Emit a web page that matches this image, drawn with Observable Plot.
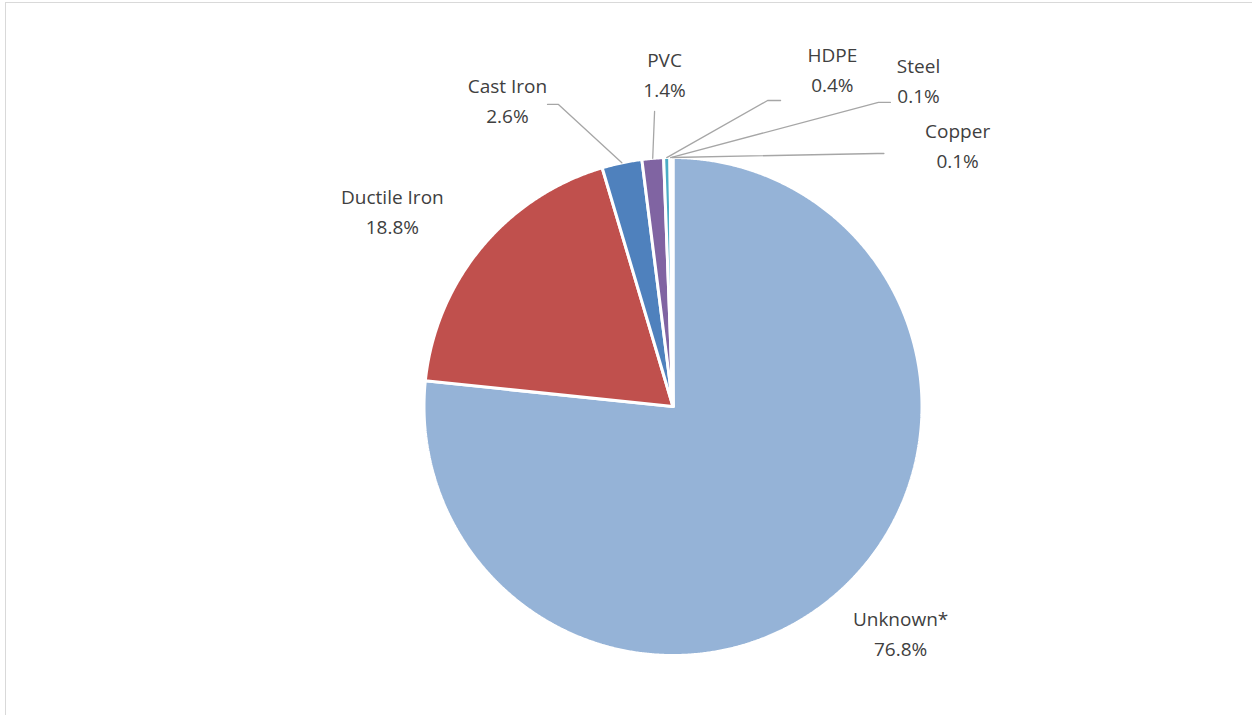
<!DOCTYPE html>
<html><head><meta charset="utf-8">
<script src="https://cdn.jsdelivr.net/npm/d3@7"></script>
<script src="https://cdn.jsdelivr.net/npm/@observablehq/plot@0.6"></script>
<style>
body{margin:0;background:#fff;overflow:hidden;}
#frame{position:absolute;left:5px;top:2px;width:1300px;height:760px;border-left:1.5px solid #d9d9d9;border-top:1.5px solid #d9d9d9;}
#chart{position:absolute;left:0;top:0;}
</style></head><body><div id="frame"></div><div id="chart"></div>
<script>
// Data
const categories = ["Unknown*", "Ductile Iron", "Cast Iron", "PVC", "HDPE", "Steel", "Copper"];
const values = [76.8, 18.8, 2.6, 1.4, 0.4, 0.1, 0.1];
const labels = ["76.8%", "18.8%", "2.6%", "1.4%", "0.4%", "0.1%", "0.1%"];
const colors = ["#95B3D7", "#C0504D", "#4F81BD", "#8064A2", "#4BACC6", "#F79646", "#9BBB59"];

// Layout (data units, pie radius = 1)
const labelX = [0.914, -1.127, -0.665, -0.034, 0.64, 0.986, 1.143];
const labelY = [-0.904, 0.791, 1.237, 1.341, 1.361, 1.317, 1.056];
// leader elbows: [elbowX, elbowY, endX] or null
const leaders = [null, null, [-0.46, 1.213, -0.504], [-0.074, 1.185, -0.074], [0.38, 1.229, 0.432], [0.825, 1.221, 0.873], [0.82, 1.016, 0.847]];

const arcs = d3.pie().sort(null).value(d => d)(values);
const slicePts = [];
arcs.forEach((a, i) => {
  const cat = categories[i];
  slicePts.push({cat, x: 0, y: 0});
  const n = Math.max(2, Math.ceil((a.endAngle - a.startAngle) / 0.005));
  for (let k = 0; k <= n; k++) {
    const t = a.startAngle + (a.endAngle - a.startAngle) * k / n;
    slicePts.push({cat, x: Math.sin(t), y: Math.cos(t)});
  }
  slicePts.push({cat, x: 0, y: 0});
});

const leaderPts = [];
arcs.forEach((a, i) => {
  const L = leaders[i];
  if (!L) return;
  const m = (a.startAngle + a.endAngle) / 2;
  const cat = categories[i];
  leaderPts.push({cat, x: Math.sin(m), y: Math.cos(m)});
  leaderPts.push({cat, x: L[0], y: L[1]});
  leaderPts.push({cat, x: L[2], y: L[1]});
});

const labelData = categories.map((c, i) => ({text: c + "\n" + labels[i], x: labelX[i], y: labelY[i]}));

const cx = 672.5, cy = 406, R = 249;
const chart = Plot.plot({
  width: 1252, height: 715,
  margin: 0,
  x: {domain: [-1, 1], range: [cx - R, cx + R], axis: null},
  y: {domain: [-1, 1], range: [cy + R, cy - R], axis: null},
  color: {domain: categories, range: colors},
  style: {fontFamily: "'Open Sans', sans-serif", background: "transparent"},
  marks: [
    Plot.line(slicePts, {x: "x", y: "y", z: "cat", fill: "cat", stroke: "white", strokeWidth: 3, strokeLinejoin: "miter", curve: "linear"}),
    Plot.line(leaderPts, {x: "x", y: "y", z: "cat", stroke: "#a6a6a6", strokeWidth: 1.3}),
    Plot.text(labelData, {x: "x", y: "y", text: "text", fontSize: 19, lineHeight: 1.58, fill: "#404040", lineAnchor: "middle"})
  ]
});
document.getElementById("chart").appendChild(chart);
</script></body></html>
